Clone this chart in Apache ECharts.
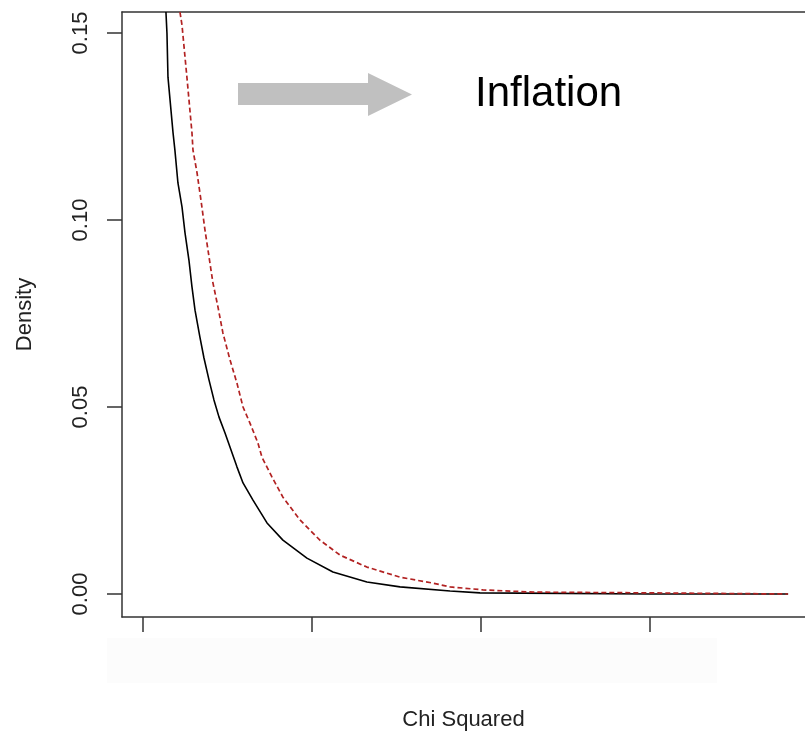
<!DOCTYPE html>
<html>
<head>
<meta charset="utf-8">
<script src="https://cdn.jsdelivr.net/npm/echarts@6/dist/echarts.min.js"></script>
<style>
html,body{margin:0;padding:0;background:#fff;}
#chart{width:805px;height:733px;}
</style>
</head>
<body>
<div id="chart"></div>
<script>
// Baseline chi-squared density (solid black)
var baselineX = [1.36,1.42,1.48,1.78,1.89,2.07,2.31,2.49,2.72,2.90,3.08,3.37,3.61,3.91,4.20,4.50,4.85,5.56,5.92,6.51,7.34,8.28,9.70,11.24,13.25,15.21,18.17,19.94,30.0,38.17];
var baselineDensity = [0.1556,0.1500,0.1382,0.1233,0.1187,0.1099,0.1035,0.0965,0.0893,0.0821,0.0759,0.0687,0.0631,0.0572,0.0519,0.0473,0.0431,0.0340,0.0297,0.0251,0.0190,0.0144,0.0096,0.0059,0.0032,0.0019,0.0008,0.0003,0.0000,0.0000];
// Inflated distribution (dashed red)
var inflatedX = [2.19,2.31,2.60,2.90,2.96,3.20,3.43,3.67,3.91,4.14,4.44,4.73,5.15,5.56,5.92,6.33,6.80,7.04,7.63,8.28,9.29,10.47,11.66,13.25,15.21,17.16,18.17,20.12,23.08,30.0,38.17];
var inflatedDensity = [0.1556,0.1521,0.1382,0.1233,0.1187,0.1126,0.1054,0.0973,0.0901,0.0832,0.0767,0.0698,0.0626,0.0564,0.0500,0.0457,0.0404,0.0366,0.0313,0.0259,0.0198,0.0144,0.0104,0.0072,0.0045,0.0029,0.0019,0.0011,0.0005,0.0003,0.0000];
var xTicks = [0, 10, 20, 30];
var yTicks = [0, 0.05, 0.10, 0.15];
var xTitle = 'Chi Squared';
var yTitle = 'Density';
var annotation = 'Inflation';

function pairs(xs, ys){ return xs.map(function(x,i){ return [x, ys[i]]; }); }

var FONT = '"Liberation Sans", Arial, sans-serif';
var axisColor = '#333';

var chart = echarts.init(document.getElementById('chart'), null, {renderer:'canvas'});
chart.setOption({
  backgroundColor: '#fff',
  animation: false,
  grid: {left: 122, right: 0, top: 12, bottom: 116, containLabel: false, outerBoundsMode: 'none'},
  xAxis: [{
    type: 'value', min: -1.24, max: 39.17, position: 'bottom',
    name: xTitle, nameLocation: 'middle', nameGap: 92,
    nameTextStyle: {fontFamily: FONT, fontSize: 22, color: '#222'},
    axisLine: {show: true, onZero: false, lineStyle: {color: axisColor, width: 1.5}},
    axisTick: {show: true, inside: false, length: 15, customValues: xTicks, lineStyle: {color: axisColor, width: 1.5}},
    axisLabel: {show: false},
    splitLine: {show: false}
  }, {
    type: 'value', min: -1.24, max: 39.17, position: 'top',
    axisLine: {show: true, onZero: false, lineStyle: {color: axisColor, width: 1.5}},
    axisTick: {show: false}, axisLabel: {show: false}, splitLine: {show: false}
  }],
  yAxis: {
    type: 'value', min: -0.00615, max: 0.15562,
    name: yTitle, nameLocation: 'middle', nameGap: 86, nameRotate: 90,
    nameTextStyle: {fontFamily: FONT, fontSize: 22, color: '#222'},
    axisLine: {show: true, onZero: false, lineStyle: {color: axisColor, width: 1.5}},
    axisTick: {show: true, inside: false, length: 15, customValues: yTicks, lineStyle: {color: axisColor, width: 1.5}},
    axisLabel: {
      show: true, customValues: yTicks, rotate: 90, margin: 30,
      fontFamily: FONT, fontSize: 22, color: '#222',
      formatter: function(v){ return v.toFixed(2); }
    },
    splitLine: {show: false}
  },
  graphic: [
    {type: 'rect', z: -1, silent: true, shape: {x: 107, y: 638, width: 610, height: 45}, style: {fill: '#fcfcfc'}},
    {type: 'polygon', silent: true, shape: {points: [[238,83],[368,83],[368,73],[412,94.5],[368,116],[368,105],[238,105]]}, style: {fill: '#c0c0c0'}},
    {type: 'text', silent: true, left: 475, top: 73, style: {text: annotation, font: '42px "Liberation Sans", Arial, sans-serif', fill: '#000'}}
  ],
  series: [{
    type: 'line', xAxisIndex: 0, data: pairs(baselineX, baselineDensity),
    showSymbol: false, smooth: false, clip: true,
    lineStyle: {color: '#000', width: 1.6}
  }, {
    type: 'line', xAxisIndex: 0, data: pairs(inflatedX, inflatedDensity),
    showSymbol: false, smooth: false, clip: true,
    lineStyle: {color: '#b22222', width: 1.7, type: [5, 3]}
  }]
});
</script>
</body>
</html>
